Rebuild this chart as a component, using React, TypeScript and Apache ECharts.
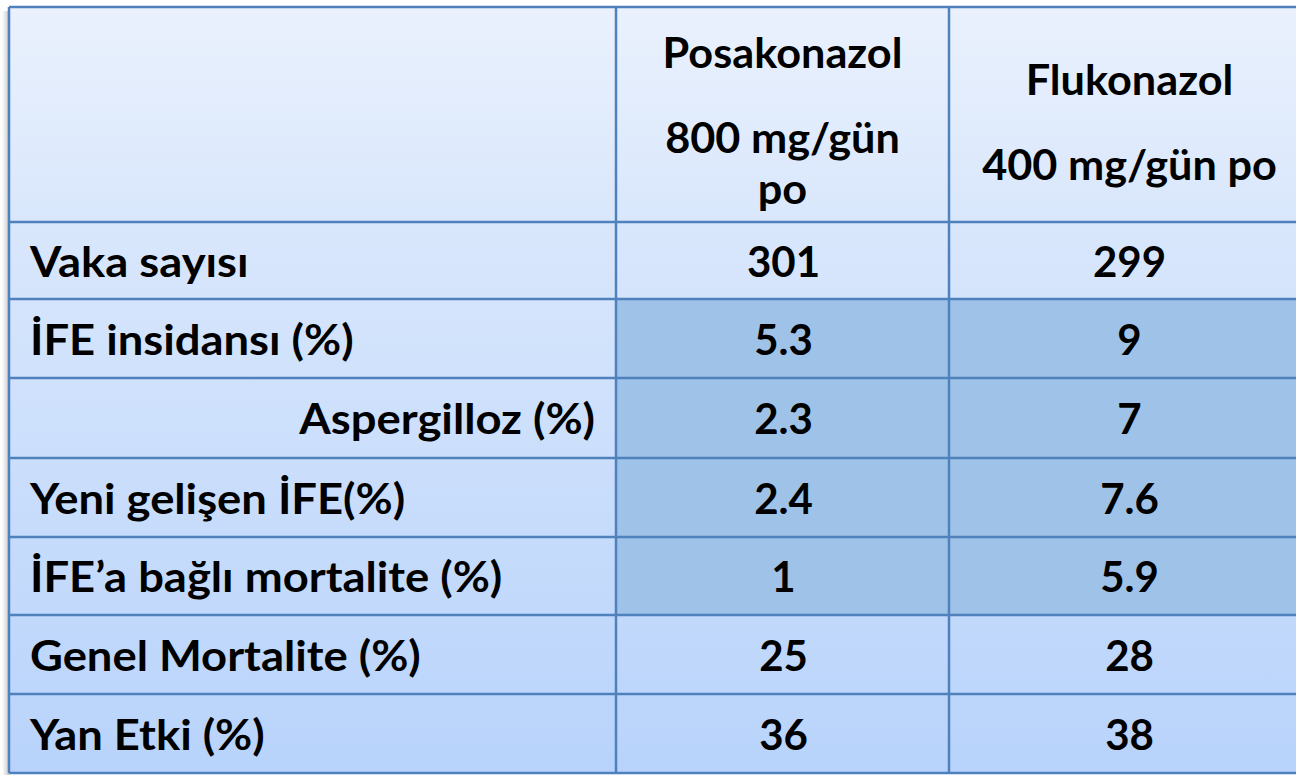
import { useEffect, useRef } from "react";
import * as echarts from "echarts";

// ---- data ----
const headerPosakonazol = ["Posakonazol", "800 mg/gün", "po"];
const headerFlukonazol = ["Flukonazol", "400 mg/gün po"];
const rowLabels = [
  "Vaka sayısı",
  "İFE insidansı (%)",
  "Aspergilloz (%)",
  "Yeni gelişen İFE(%)",
  "İFE’a bağlı mortalite (%)",
  "Genel Mortalite (%)",
  "Yan Etki (%)",
];
const posakonazol = ["301", "5.3", "2.3", "2.4", "1", "25", "36"];
const flukonazol = ["299", "9", "7", "7.6", "5.9", "28", "38"];
const highlightedRows = [1, 2, 3, 4];
const rightAlignedRows = [2];

// ---- layout ----
const COL_X = [9, 616, 949, 1310];
const ROW_Y = [7, 222, 299, 378, 458, 537, 615, 694, 773];
const LINE = "#4F81BD";
const FONT = "Lato";

export default function App() {
  const ref = useRef<HTMLDivElement>(null);
  useEffect(() => {
    document.body.style.margin = "0";
    const chart = echarts.init(ref.current!, null, { renderer: "svg" });
    const els: any[] = [];
    const left = COL_X[0];
    const right = COL_X[3];
    const top = ROW_Y[0];
    const bottom = ROW_Y[ROW_Y.length - 1];

    // shadow on the left
    els.push({
      type: "rect",
      shape: { x: 2, y: top + 4, width: left - 2, height: bottom - top },
      style: {
        fill: new echarts.graphic.LinearGradient(0, 0, 1, 0, [
          { offset: 0, color: "rgba(160,160,160,0)" },
          { offset: 1, color: "rgba(150,150,150,0.55)" },
        ]),
      },
    });
    // background gradient
    els.push({
      type: "rect",
      shape: { x: left, y: top, width: right - left, height: bottom - top },
      style: {
        fill: new echarts.graphic.LinearGradient(0, 0, 0, 1, [
          { offset: 0, color: "#EAF1FD" },
          { offset: 0.28, color: "#D9E7FC" },
          { offset: 1, color: "#B8D3FB" },
        ]),
      },
    });
    // highlighted cells
    highlightedRows.forEach((r) => {
      els.push({
        type: "rect",
        shape: {
          x: COL_X[1],
          y: ROW_Y[r + 1],
          width: right - COL_X[1],
          height: ROW_Y[r + 2] - ROW_Y[r + 1],
        },
        style: { fill: "#9FC3E8" },
      });
    });
    // horizontal lines
    ROW_Y.forEach((y) => {
      els.push({
        type: "line",
        shape: { x1: left, y1: y, x2: right, y2: y },
        style: { stroke: LINE, lineWidth: 2.5 },
      });
    });
    // vertical lines
    [COL_X[0], COL_X[1], COL_X[2]].forEach((x) => {
      els.push({
        type: "line",
        shape: { x1: x, y1: top, x2: x, y2: bottom },
        style: { stroke: LINE, lineWidth: 2.5 },
      });
    });

    const txt = (text: string, x: number, y: number, size: number, align: string, sx = 1) => ({
      type: "text",
      x,
      y,
      scaleX: sx,
      style: {
        text,
        fill: "#000",
        fontSize: size,
        fontWeight: "bold",
        fontFamily: FONT,
        textAlign: align,
        textVerticalAlign: "middle",
      },
    });

    // header
    const c1 = (COL_X[1] + COL_X[2]) / 2;
    const c2 = (COL_X[2] + COL_X[3]) / 2;
    const hY1 = [52, 137, 188];
    headerPosakonazol.forEach((t, i) => els.push(txt(t, c1, hY1[i], 42, "center", 1.03)));
    const hY2 = [79, 164];
    headerFlukonazol.forEach((t, i) => els.push(txt(t, c2, hY2[i], 42, "center", 1.03)));

    // rows
    rowLabels.forEach((lab, r) => {
      const cy = (ROW_Y[r + 1] + ROW_Y[r + 2]) / 2;
      if (rightAlignedRows.includes(r)) {
        els.push(txt(lab, 595, cy, 42, "right", 1.08));
      } else {
        els.push(txt(lab, 30, cy, 42, "left", 1.08));
      }
      els.push(txt(posakonazol[r], c1 + 1, cy, 42, "center", 1));
      els.push(txt(flukonazol[r], c2, cy, 42, "center", 1));
    });

    chart.setOption({ animation: false, graphic: { elements: els } });
    return () => chart.dispose();
  }, []);
  return <div ref={ref} style={{ width: 1296, height: 775 }} />;
}
